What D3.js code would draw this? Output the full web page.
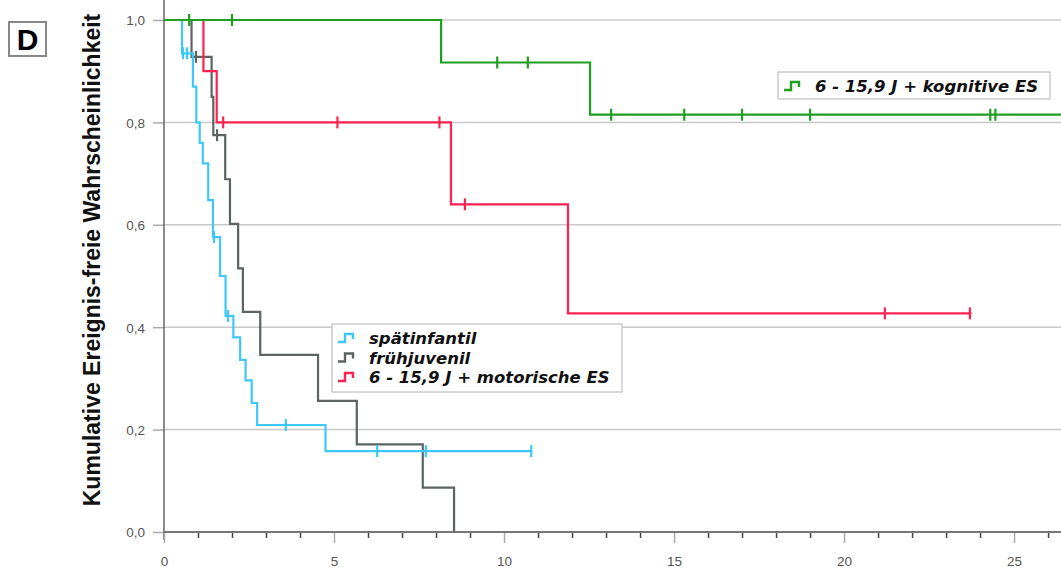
<!DOCTYPE html>
<html>
<head>
<meta charset="utf-8">
<script src="https://cdn.jsdelivr.net/npm/d3@7"></script>
<style>
  body { margin: 0; background: #fff; }
  svg { display: block; }
  .tick-label { font-family: "Liberation Sans", Arial, sans-serif; font-size: 13.5px; fill: #555; }
  .legend-text { font-family: "DejaVu Sans", Verdana, sans-serif; font-size: 16.5px; font-weight: bold; font-style: italic; fill: #111; }
</style>
</head>
<body>
<div id="chart"></div>
<script>
var width = 1061;
var height = 572;

// axis ticks
var xTicks = [0, 5, 10, 15, 20, 25];
var xMinorTicks = d3.range(0, 27);
var yTicks = [0, 0.2, 0.4, 0.6, 0.8, 1.0];

// spätinfantil
var spaetTime = [0, 0.53, 0.85, 0.95, 1.05, 1.14, 1.30, 1.44, 1.65, 1.81, 2.04, 2.24, 2.40, 2.58, 2.74, 4.75];
var spaetSurv = [1, 0.935, 0.87, 0.80, 0.76, 0.72, 0.648, 0.576, 0.50, 0.422, 0.38, 0.336, 0.296, 0.252, 0.209, 0.158];
var spaetEnd = 10.8;
var spaetCensor = [0.56, 0.68, 1.47, 1.88, 3.58, 6.27, 7.7, 10.8];

// frühjuvenil
var fruehTime = [0, 0.81, 1.40, 1.45, 1.80, 1.94, 2.18, 2.32, 2.83, 4.53, 5.67, 7.61, 8.53];
var fruehSurv = [1, 0.928, 0.85, 0.775, 0.689, 0.602, 0.515, 0.43, 0.346, 0.256, 0.171, 0.0865, 0];
var fruehEnd = 8.53;
var fruehCensor = [0.94, 1.56];

// 6 - 15,9 J + motorische ES
var motorTime = [0, 1.16, 1.55, 8.44, 11.88];
var motorSurv = [1, 0.90, 0.80, 0.64, 0.427];
var motorEnd = 23.75;
var motorCensor = [1.74, 5.1, 8.1, 8.85, 21.2, 23.7];

// 6 - 15,9 J + kognitive ES
var kognTime = [0, 8.15, 12.53];
var kognSurv = [1, 0.917, 0.815];
var kognEnd = 26.4;
var kognCensor = [0.74, 2.0, 9.8, 10.7, 13.15, 15.3, 17.0, 19.0, 24.3, 24.45];

var series = [
    {name: "frühjuvenil", time: fruehTime, surv: fruehSurv, end: fruehEnd, censor: fruehCensor, color: "#5c6462"},
    {name: "spätinfantil", time: spaetTime, surv: spaetSurv, end: spaetEnd, censor: spaetCensor, color: "#3cc8f8"},
    {name: "6 - 15,9 J + motorische ES", time: motorTime, surv: motorSurv, end: motorEnd, censor: motorCensor, color: "#ff2250"},
    {name: "6 - 15,9 J + kognitive ES", time: kognTime, surv: kognSurv, end: kognEnd, censor: kognCensor, color: "#1f9e1f"}
];

var x0 = 164, y0 = 532, yTop = 20;

/* Scale */
var xScale = d3.scaleLinear()
    .domain([0, 26.38])
    .range([x0, width]);

var yScale = d3.scaleLinear()
    .domain([0, 1])
    .range([y0, yTop]);

var svg = d3.select("#chart").append("svg")
    .attr("width", width)
    .attr("height", height);

/* grid */
svg.append("g")
    .selectAll("line")
    .data(yTicks.filter(d => d > 0)).enter()
    .append("line")
    .attr("x1", x0).attr("x2", width)
    .attr("y1", d => yScale(d)).attr("y2", d => yScale(d))
    .attr("stroke", "#c8c8c8")
    .attr("stroke-width", 1.5);

/* y axis */
var yAxis = d3.axisLeft(yScale)
    .tickValues(yTicks)
    .tickSize(11)
    .tickPadding(8)
    .tickFormat(d => d3.format(".1f")(d).replace(".", ","));

var gy = svg.append("g")
    .attr("transform", `translate(${x0},0)`)
    .call(yAxis);
gy.select(".domain").remove();
gy.selectAll(".tick line").attr("stroke", "#aaa").attr("stroke-width", 1.5);
gy.selectAll(".tick text").attr("class", "tick-label").attr("dy", "0.36em");

svg.append("line")
    .attr("x1", x0).attr("x2", x0)
    .attr("y1", 0).attr("y2", y0 + 8)
    .attr("stroke", "#666")
    .attr("stroke-width", 1.5);

/* x axis */
var xMinor = d3.axisBottom(xScale)
    .tickValues(xMinorTicks.filter(d => d % 5 !== 0))
    .tickSize(6)
    .tickFormat("");
var gxm = svg.append("g")
    .attr("transform", `translate(0,${y0})`)
    .call(xMinor);
gxm.select(".domain").remove();
gxm.selectAll(".tick line").attr("stroke", "#444").attr("stroke-width", 1.5);

var xAxis = d3.axisBottom(xScale)
    .tickValues(xTicks)
    .tickSize(11)
    .tickPadding(13);
var gx = svg.append("g")
    .attr("transform", `translate(0,${y0})`)
    .call(xAxis);
gx.select(".domain").remove();
gx.selectAll(".tick line").attr("stroke", "#aaa").attr("stroke-width", 1.5);
gx.selectAll(".tick text").attr("class", "tick-label");

svg.append("line")
    .attr("x1", x0).attr("x2", width)
    .attr("y1", y0).attr("y2", y0)
    .attr("stroke", "#777")
    .attr("stroke-width", 2);

/* curves */
var line = d3.line()
    .x(d => xScale(d[0]))
    .y(d => yScale(d[1]))
    .curve(d3.curveStepAfter);

function survAt(s, t) {
    var v = s.surv[0];
    s.time.forEach(function(tt, i) { if (tt <= t) v = s.surv[i]; });
    return v;
}

var curves = svg.append("g").attr("class", "lines");

series.forEach(function(s) {
    var pts = s.time.map((t, i) => [t, s.surv[i]]);
    pts.push([s.end, s.surv[s.surv.length - 1]]);
    var g = curves.append("g");
    g.append("path")
        .attr("d", line(pts))
        .attr("fill", "none")
        .attr("stroke", s.color)
        .attr("stroke-width", 2.2);
    g.selectAll("line")
        .data(s.censor).enter()
        .append("line")
        .attr("x1", d => xScale(d)).attr("x2", d => xScale(d))
        .attr("y1", d => yScale(survAt(s, d)) - 6)
        .attr("y2", d => yScale(survAt(s, d)) + 6)
        .attr("stroke", s.color)
        .attr("stroke-width", 2.2);
});

/* legends */
function legendBox(items, bx, by, bw, bh) {
    var g = svg.append("g").attr("transform", `translate(${bx},${by})`);
    g.append("rect")
        .attr("width", bw).attr("height", bh)
        .attr("fill", "#fff")
        .attr("stroke", "#ccc")
        .attr("stroke-width", 1.5);
    items.forEach(function(s, i) {
        var row = g.append("g").attr("transform", `translate(6,${7 + i * 19.5})`);
        row.append("path")
            .attr("d", "M0,11H7V3H15V8")
            .attr("fill", "none")
            .attr("stroke", s.color)
            .attr("stroke-width", 2.4);
        row.append("text")
            .attr("class", "legend-text")
            .attr("x", 31).attr("y", 13)
            .text(s.name);
    });
}

legendBox([series[1], series[0], series[2]], 332, 324, 290, 68);
legendBox([series[3]], 778, 72, 272, 27);

/* panel label */
svg.append("rect")
    .attr("x", 9).attr("y", 22)
    .attr("width", 37).attr("height", 34)
    .attr("fill", "#fff")
    .attr("stroke", "#888")
    .attr("stroke-width", 2);
svg.append("text")
    .attr("x", 27.5).attr("y", 50)
    .attr("text-anchor", "middle")
    .style("font-family", "Liberation Sans, Arial, sans-serif")
    .style("font-weight", "bold")
    .style("font-size", "30px")
    .text("D");

/* y title */
svg.append("text")
    .attr("transform", "translate(100,260) rotate(-90)")
    .attr("text-anchor", "middle")
    .style("font-family", "Liberation Sans, Arial, sans-serif")
    .style("font-weight", "bold")
    .style("font-size", "23px")
    .attr("fill", "#111")
    .text("Kumulative Ereignis-freie Wahrscheinlichkeit");
</script>
</body>
</html>
